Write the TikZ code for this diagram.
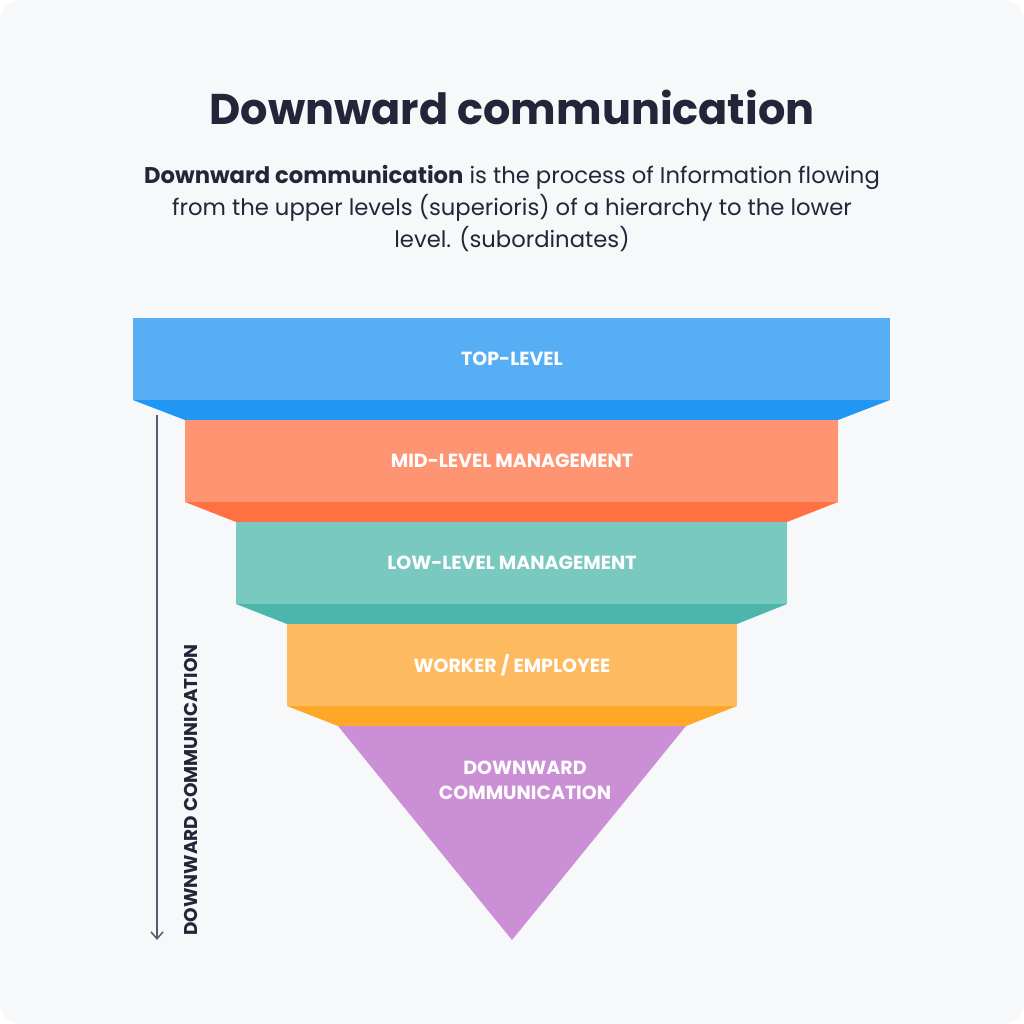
\documentclass[tikz,border=0pt]{standalone}
\usepackage{fontspec}
\setmainfont{Poppins}
\usetikzlibrary{positioning,arrows.meta}
\definecolor{bgcol}{HTML}{F7F8FA}
\definecolor{inkcol}{HTML}{222639}
\definecolor{topcol}{HTML}{57AEF5}\definecolor{topdark}{HTML}{2196F3}
\definecolor{midcol}{HTML}{FF9472}\definecolor{middark}{HTML}{FF7043}
\definecolor{lowcol}{HTML}{7AC9C0}\definecolor{lowdark}{HTML}{4DB6AC}
\definecolor{workcol}{HTML}{FDBA5E}\definecolor{workdark}{HTML}{FFA726}
\definecolor{downcol}{HTML}{CB8FD6}

\begin{document}
\begin{tikzpicture}[x=1pt,y=-1pt]
\tikzset{level/.style={text=white,font=\fontsize{19}{22}\selectfont\bfseries,align=center}}
\useasboundingbox (0,0) rectangle (1024,1024);
\fill [white] (0,0) rectangle (1024,1024);
\fill [bgcol,rounded corners=22pt] (0,0) rectangle (1024,1024);
% title and intro
\node [text=inkcol,font=\fontsize{43}{48}\selectfont\bfseries] (title) at (512,107) {Downward communication};
\node [text=inkcol,font=\fontsize{22.7}{32}\selectfont,align=center] (intro) at (512,209)
 {\textbf{Downward communication} is the process of Information flowing\\from the upper levels (superioris) of a hierarchy to the lower\\level. (subordinates)};
% bands
\fill [topcol] (133,318) rectangle (890,400);
\fill [topdark] (133,400) -- (890,400) -- (838,420) -- (185,420) -- cycle;
\fill [midcol] (185,420) rectangle (838,502);
\fill [middark] (185,502) -- (838,502) -- (787,522) -- (236,522) -- cycle;
\fill [lowcol] (236,522) rectangle (787,604);
\fill [lowdark] (236,604) -- (787,604) -- (737,624) -- (287,624) -- cycle;
\fill [workcol] (287,624) rectangle (737,706);
\fill [workdark] (287,706) -- (737,706) -- (686,726) -- (338,726) -- cycle;
\fill [downcol] (338,726) -- (686,726) -- (512,940) -- cycle;
\node [level] (top) at (512,359) {TOP-LEVEL};
\node [level] (mid) at (512,461) {MID-LEVEL MANAGEMENT};
\node [level] (low) at (512,563) {LOW-LEVEL MANAGEMENT};
\node [level] (worker) at (512,665) {WORKER / EMPLOYEE};
\node [level,font=\fontsize{19}{25}\selectfont\bfseries] (down) at (525,780) {DOWNWARD\\COMMUNICATION};
% side arrow
\coordinate (astart) at (157,415);
\coordinate (aend) at (157,940);
\draw [inkcol!75,line width=1.5pt,-{Straight Barb[length=7pt,width=12pt]}] (astart) -- (aend);
\node [text=inkcol,rotate=90,font=\fontsize{18.5}{20}\selectfont\bfseries] (side) at (191,790) {DOWNWARD COMMUNICATION};
\end{tikzpicture}
\end{document}
